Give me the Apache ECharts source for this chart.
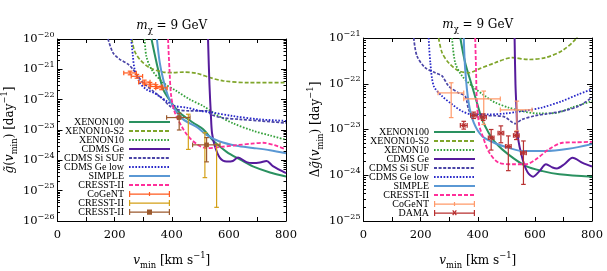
<!DOCTYPE html>
<html><head><meta charset="utf-8">
<script src="https://cdn.jsdelivr.net/npm/echarts@6/dist/echarts.min.js"></script>
<style>html,body{margin:0;padding:0;background:#fff}#c{width:607px;height:271px}</style>
</head><body><div id="c"></div>
<script>
// ---------------- LEFT PANEL: g~(vmin) ----------------
const L_xenon100_v = [329, 352, 370, 399, 428, 475, 510, 545, 592, 640, 684, 744, 800];
const L_xenon100_g = [1e-20, 1e-21, 2.19e-22, 7.94e-23, 3.72e-23, 1.74e-23, 1.05e-23, 4.47e-24, 1.91e-24, 1.05e-24, 6.31e-25, 3.98e-25, 2.95e-25];
const L_s2_v = [260, 270, 288, 323, 370, 405, 440, 487, 533, 580, 674, 800];
const L_s2_g = [1e-20, 3.98e-21, 2.14e-21, 1.12e-21, 8.13e-22, 7.76e-22, 8.13e-22, 7.41e-22, 5.37e-22, 4.17e-22, 3.63e-22, 3.63e-22];
const L_xenon10_v = [305, 311, 329, 370, 416, 463, 510, 557, 615, 686, 744, 800];
const L_xenon10_g = [1e-20, 2.75e-21, 1e-21, 3.63e-22, 1.95e-22, 1.02e-22, 6.17e-23, 3.16e-23, 1.66e-23, 9.33e-24, 6.61e-24, 4.79e-24];
const L_cdmsge_v = [527, 532, 537, 541, 551, 568, 592, 614, 632, 662, 684, 709, 732, 754, 800];
const L_cdmsge_g = [1e-20, 3.16e-22, 3.16e-23, 7.94e-24, 2.95e-24, 1.23e-24, 9.12e-25, 9.55e-25, 1.23e-24, 8.71e-25, 8.13e-25, 8.51e-25, 9.55e-25, 6.46e-25, 3.8e-25];
const L_sisuf_v = [177, 194, 218, 247, 264, 299, 334, 370, 393, 416, 463, 522, 540, 580, 639, 709, 800];
const L_sisuf_g = [1e-20, 3.55e-21, 2.14e-21, 1.48e-21, 1e-21, 3.63e-22, 1.95e-22, 1.02e-22, 6.17e-23, 4.79e-23, 4.27e-23, 4.27e-23, 3.16e-23, 2.51e-23, 2.24e-23, 2.0e-23, 1.70e-23];
const L_gelow_v = [258, 264, 270, 288, 311, 346, 381, 411, 452, 498, 533, 614, 709, 800];
const L_gelow_g = [1e-20, 2.75e-21, 1e-21, 3.63e-22, 2.19e-22, 1.51e-22, 9.12e-23, 6.17e-23, 5.5e-23, 4.27e-23, 3.89e-23, 2.88e-23, 2.24e-23, 2.0e-23];
const L_simple_v = [348, 358, 370, 387, 411, 440, 487, 520, 568, 627, 684, 744, 800];
const L_simple_g = [1e-20, 1.66e-21, 4.68e-22, 1.32e-22, 4.79e-23, 2.24e-23, 1.26e-23, 7.08e-24, 4.17e-24, 3.02e-24, 2.57e-24, 2.14e-24, 1.70e-24];
const L_cresst_v = [387, 392, 398, 411, 434, 457, 490, 522, 568, 627, 680, 720, 760, 800];
const L_cresst_g = [1e-20, 1e-21, 1.32e-22, 3.72e-23, 1.35e-23, 6.31e-24, 3.31e-24, 2.51e-24, 2.75e-24, 3.16e-24, 3.55e-24, 3.80e-24, 3.16e-24, 2.29e-24];
// CoGeNT points (left)
const L_cogent_v   = [254, 278, 304, 324, 345, 364];
const L_cogent_vlo = [232, 258, 284, 304, 325, 344];
const L_cogent_vhi = [276, 298, 324, 344, 365, 384];
const L_cogent_g   = [7.6e-22, 5.9e-22, 3.8e-22, 3.24e-22, 2.7e-22, 2.45e-22];
const L_cogent_glo = [6.6e-22, 5.1e-22, 3.3e-22, 2.8e-22, 2.35e-22, 2.13e-22];
const L_cogent_ghi = [8.7e-22, 6.8e-22, 4.4e-22, 3.7e-22, 3.1e-22, 2.8e-22];
// CRESST-II (gold, vertical bars)
const L_cr2_v   = [458, 516, 557];
const L_cr2_g   = [8.71e-24, 1.48e-24, 3.1e-25];
const L_cr2_glo = [2.29e-24, 2.69e-25, 2.82e-26];
const L_cr2_ghi = [3.31e-23, 8.13e-24, 3.39e-24];
// CRESST-II (brown, squares)
const L_cr3_v   = [426, 522];
const L_cr3_vlo = [382, 473];
const L_cr3_vhi = [464, 569];
const L_cr3_g   = [2.57e-23, 3.24e-24];
const L_cr3_glo = [1e-23, 8.91e-25];
const L_cr3_ghi = [3.55e-23, 5.62e-24];

// ---------------- RIGHT PANEL: Delta g~(vmin) ----------------
const R_xenon100_v = [339, 356, 380, 397, 415, 438, 462, 508, 569, 627, 686, 800];
const R_xenon100_g = [1e-21, 2.88e-22, 8.91e-23, 3.89e-23, 1.66e-23, 8.51e-24, 5.13e-24, 2.82e-24, 1.58e-24, 1.23e-24, 1.05e-24, 9.33e-25];
const R_s2_v = [263, 275, 298, 333, 368, 403, 461, 520, 578, 637, 695, 742, 752];
const R_s2_g = [1e-21, 4.79e-22, 2.88e-22, 1.91e-22, 1.74e-22, 2.09e-22, 2.88e-22, 3.72e-22, 3.39e-22, 3.72e-22, 5.25e-22, 9.33e-22, 1.26e-21];
const R_xenon10_v = [310, 321, 345, 380, 426, 461, 508, 555, 613, 672, 730, 800];
const R_xenon10_g = [1e-21, 2.88e-22, 1.48e-22, 8.91e-23, 5.37e-23, 3.89e-23, 3.02e-23, 2.51e-23, 2.24e-23, 2.29e-23, 3.02e-23, 4.17e-23];
const R_cdmsge_v = [529, 532, 536, 540, 557, 575, 594, 616, 639, 662, 677, 703, 732, 767, 800];
const R_cdmsge_g = [1e-21, 1e-22, 2.51e-23, 7.24e-24, 2.24e-24, 1.15e-24, 9.33e-25, 1.23e-24, 1.74e-24, 1.48e-24, 1.41e-24, 1.74e-24, 2.40e-24, 1.86e-24, 1.55e-24];
const R_sisuf_v = [176, 187, 216, 251, 275, 298, 333, 356, 368, 380, 415, 461, 496, 531, 555, 601, 640, 695, 753, 800];
const R_sisuf_g = [1e-21, 4.07e-22, 2.24e-22, 1.74e-22, 1.48e-22, 8.91e-23, 6.31e-23, 5.37e-23, 2.75e-23, 2.14e-23, 2.0e-23, 2.0e-23, 1.86e-23, 1.35e-23, 1.66e-23, 2.0e-23, 2.19e-23, 2.51e-23, 3.24e-23, 5.01e-23];
const R_gelow_v = [228, 234, 246, 275, 310, 345, 380, 438, 496, 555, 625, 695, 753, 800];
const R_gelow_g = [1e-21, 2.88e-22, 8.91e-23, 5.37e-23, 3.55e-23, 2.51e-23, 2.14e-23, 2.14e-23, 2.24e-23, 2.51e-23, 3.02e-23, 4.17e-23, 5.89e-23, 7.59e-23];
const R_simple_v = [351, 356, 368, 386, 415, 461, 508, 555, 636, 718, 800];
const R_simple_g = [1e-21, 2.09e-22, 3.89e-23, 1.41e-23, 7.24e-24, 5.01e-24, 3.98e-24, 3.39e-24, 3.39e-24, 3.80e-24, 4.79e-24];
const R_cresst_v = [391, 394, 397, 405, 417, 440, 475, 522, 569, 604, 650, 697, 744, 800];
const R_cresst_g = [1e-21, 2.09e-22, 3.89e-23, 1.26e-23, 7.24e-24, 3.16e-24, 1.86e-24, 1.74e-24, 1.74e-24, 2.24e-24, 3.72e-24, 5.13e-24, 5.25e-24, 5.37e-24];
// CoGeNT (right)
const R_cogent_v   = [307, 421, 537];
const R_cogent_vlo = [261, 351, 479];
const R_cogent_vhi = [351, 479, 590];
const R_cogent_g   = [6.31e-23, 4.68e-23, 2.69e-23];
const R_cogent_glo = [1.82e-23, 1.29e-23, 9.33e-24];
const R_cogent_ghi = [1.05e-22, 6.92e-23, 4.17e-23];
// DAMA (right)
const R_dama_v   = [351, 386, 419, 447, 481, 507, 535, 560];
const R_dama_vlo = [339, 375, 408, 437, 471, 497, 525, 550];
const R_dama_vhi = [363, 397, 430, 457, 491, 517, 545, 570];
const R_dama_g   = [1.23e-23, 2.04e-23, 1.86e-23, 6.61e-24, 8.32e-24, 4.27e-24, 7.41e-24, 3.09e-24];
const R_dama_glo = [1.02e-23, 1.74e-23, 1.58e-23, 3.55e-24, 5.13e-24, 1.26e-24, 6.03e-24, 6.31e-25];
const R_dama_ghi = [1.51e-23, 2.40e-23, 2.19e-23, 1.0e-23, 1.20e-23, 7.24e-24, 8.91e-24, 5.62e-24];

// y-axis decades (exponents) of each panel
const L_decades = [-26, -20];
const R_decades = [-25, -21];

// ---------------- styling ----------------
const SERIF = 'DejaVu Serif';
const LEGFONT = 'Liberation Serif';
const C = {
  xenon100: '#2a9160', s2: '#7fa52a', xenon10: '#34a03a', cdmsge: '#561b9c',
  sisuf: '#4a44a6', gelow: '#2626c8', simple: '#5a98d4', cresst: '#ff2f9a',
  cogentL: '#ff5a1f', cr2: '#d4a017', cr3: '#9c5a2e', cogentR: '#ff9a6a', dama: '#b83030'
};
const DASH = [4, 2], DOT = [1.6, 1.6];
const NY = 5; // y axes per grid

function zip(a, b) { return a.map((v, i) => [v, b[i]]); }
function zip6(v, g, vlo, vhi, glo, ghi) { return v.map((x, i) => [x, g[i], vlo ? vlo[i] : x, vhi ? vhi[i] : x, glo[i], ghi[i]]); }

function lineS(name, gi, v, g, color, width, type) {
  return { type: 'line', name, xAxisIndex: gi * 2, yAxisIndex: gi * NY, data: zip(v, g), symbol: 'none',
    smooth: 0.3, clip: true, z: 2, lineStyle: { color, width, type }, itemStyle: { color } };
}
function errS(name, gi, rows, color, marker) {
  return { type: 'custom', name, xAxisIndex: gi * 2, yAxisIndex: gi * NY, data: rows, clip: true, z: 5,
    encode: { x: [0, 2, 3], y: [1, 4, 5] }, itemStyle: { color },
    renderItem: function (params, api) {
      const v = api.value(0), g = api.value(1), vlo = api.value(2), vhi = api.value(3), glo = api.value(4), ghi = api.value(5);
      const c = api.coord([v, g]);
      const st = { stroke: color, lineWidth: 1.2 };
      const ch = [];
      const ln = (x1, y1, x2, y2) => ch.push({ type: 'line', shape: { x1, y1, x2, y2 }, style: st });
      const cap = 2.3;
      if (vhi > vlo) {
        const a = api.coord([vlo, g])[0], b = api.coord([vhi, g])[0];
        ln(a, c[1], b, c[1]); ln(a, c[1] - cap, a, c[1] + cap); ln(b, c[1] - cap, b, c[1] + cap);
      }
      if (ghi > glo) {
        const lo = api.coord([v, glo])[1], hi = api.coord([v, ghi])[1];
        ln(c[0], lo, c[0], hi); ln(c[0] - cap, lo, c[0] + cap, lo); ln(c[0] - cap, hi, c[0] + cap, hi);
      }
      if (marker === 'square') {
        ch.push({ type: 'rect', shape: { x: c[0] - 2.3, y: c[1] - 2.3, width: 4.6, height: 4.6 }, style: { fill: color } });
      } else if (marker === 'x') {
        const s = 2;
        ln(c[0] - s, c[1] - s, c[0] + s, c[1] + s); ln(c[0] - s, c[1] + s, c[0] + s, c[1] - s);
      }
      return { type: 'group', children: ch };
    } };
}

const BAR = 'M0,4h41v1.2h-41z M0,1.5h1.2v6h-1.2z M39.8,1.5h1.2v6h-1.2z';
const ICON_TICK = 'path://' + BAR + ' M19.9,2.5h1.2v4h-1.2z';
const ICON_BAR = 'path://' + BAR;
const ICON_SQ = 'path://' + BAR + ' M18,2h5v5.2h-5z';
const ICON_X = 'path://' + BAR + ' M18.2,2.2l1,-0.8l1.3,1.7l1.3,-1.7l1,0.8l-1.5,2l1.5,2l-1,0.8l-1.3,-1.7l-1.3,1.7l-1,-0.8l1.5,-2z';

function rich(fs) {
  const lh = Math.round(fs * 1.5);
  return {
    n: { fontFamily: SERIF, fontSize: fs, color: '#000', lineHeight: lh },
    i: { fontFamily: SERIF, fontSize: fs, fontStyle: 'italic', color: '#000', lineHeight: lh },
    sub: { fontFamily: SERIF, fontSize: fs * 0.7, color: '#000', verticalAlign: 'bottom' },
    sup: { fontFamily: SERIF, fontSize: fs * 0.7, color: '#000', verticalAlign: 'top' }
  };
}
const R12 = rich(12);
const labelRich = {
  b: { fontFamily: SERIF, fontSize: 11.5, color: '#000', lineHeight: 17 },
  s: { fontFamily: SERIF, fontSize: 8, color: '#000', verticalAlign: 'top' }
};
function expLabel(e) {
  e = Math.round(e);
  return '{b|10}{s|' + (e < 0 ? '\u2212' : '') + Math.abs(e) + '}';
}
function minorTicks(lo, hi) {
  const out = [];
  for (let d = lo; d < hi; d++) for (let k = 2; k <= 9; k++) out.push(d + Math.log10(k));
  return out;
}

const AX = { color: '#000', width: 1 };
function xAxes(gi) {
  const base = { gridIndex: gi, type: 'value', min: 0, max: 800, interval: 100, splitLine: { show: false },
    axisLine: { show: true, onZero: false, lineStyle: AX }, axisTick: { inside: true, length: 4, lineStyle: AX } };
  return [
    Object.assign({}, base, { position: 'bottom',
      axisLabel: { margin: 8, color: '#000', fontFamily: SERIF, fontSize: 11.5, formatter: v => (v % 200 === 0 ? String(v) : '') },
      name: '{i|v}{sub|min}{n| [km s}{sup|\u22121}{n|]}', nameLocation: 'middle', nameGap: 31, nameTextStyle: { rich: R12 } }),
    Object.assign({}, base, { position: 'top', axisLabel: { show: false },
      name: '{i|m}{sub|\u03c7}{n| = 9 GeV}', nameLocation: 'middle', nameGap: 4, nameTextStyle: { rich: R12 } })
  ];
}
function yAxes(gi, dec, yname) {
  const emin = dec[0], emax = dec[1];
  const base = { gridIndex: gi, splitLine: { show: false } };
  const expAx = { type: 'value', min: emin, max: emax, interval: 1, axisLine: { show: false } };
  return [
    // data axis (logarithmic)
    Object.assign({}, base, { type: 'log', logBase: 10, min: Math.pow(10, emin), max: Math.pow(10, emax), position: 'left',
      axisLine: { show: true, lineStyle: AX }, axisTick: { show: false }, axisLabel: { show: false } }),
    // decade labels / major ticks (left)
    Object.assign({}, base, expAx, { position: 'left',
      axisTick: { inside: true, length: 5, lineStyle: AX },
      axisLabel: { margin: 3, formatter: expLabel, rich: labelRich },
      name: yname, nameLocation: 'middle', nameRotate: 90, nameGap: 38, nameTextStyle: { rich: R12 } }),
    Object.assign({}, base, expAx, { position: 'left', axisLabel: { show: false },
      axisTick: { inside: true, length: 2.5, lineStyle: AX, customValues: minorTicks(emin, emax) } }),
    Object.assign({}, base, expAx, { position: 'right', axisLine: { show: true, lineStyle: AX }, axisLabel: { show: false },
      axisTick: { inside: true, length: 5, lineStyle: AX } }),
    Object.assign({}, base, expAx, { position: 'right', axisLabel: { show: false },
      axisTick: { inside: true, length: 2.5, lineStyle: AX, customValues: minorTicks(emin, emax) } })
  ];
}

const series = [
  lineS('XENON100', 0, L_xenon100_v, L_xenon100_g, C.xenon100, 2, 'solid'),
  lineS('XENON10-S2', 0, L_s2_v, L_s2_g, C.s2, 1.7, DASH),
  lineS('XENON10', 0, L_xenon10_v, L_xenon10_g, C.xenon10, 1.8, DOT),
  lineS('CDMS Ge', 0, L_cdmsge_v, L_cdmsge_g, C.cdmsge, 2, 'solid'),
  lineS('CDMS Si SUF', 0, L_sisuf_v, L_sisuf_g, C.sisuf, 1.7, [3, 1.6]),
  lineS('CDMS Ge low', 0, L_gelow_v, L_gelow_g, C.gelow, 1.8, DOT),
  lineS('SIMPLE', 0, L_simple_v, L_simple_g, C.simple, 2, 'solid'),
  lineS('CRESST-II', 0, L_cresst_v, L_cresst_g, C.cresst, 1.8, DASH),
  errS('CoGeNT', 0, zip6(L_cogent_v, L_cogent_g, L_cogent_vlo, L_cogent_vhi, L_cogent_glo, L_cogent_ghi), C.cogentL, 'none'),
  errS('CRESST-II#2', 0, zip6(L_cr2_v, L_cr2_g, null, null, L_cr2_glo, L_cr2_ghi), C.cr2, 'none'),
  errS('CRESST-II#3', 0, zip6(L_cr3_v, L_cr3_g, L_cr3_vlo, L_cr3_vhi, L_cr3_glo, L_cr3_ghi), C.cr3, 'square'),

  lineS('XENON100', 1, R_xenon100_v, R_xenon100_g, C.xenon100, 2, 'solid'),
  lineS('XENON10-S2', 1, R_s2_v, R_s2_g, C.s2, 1.7, DASH),
  lineS('XENON10', 1, R_xenon10_v, R_xenon10_g, C.xenon10, 1.8, DOT),
  lineS('CDMS Ge', 1, R_cdmsge_v, R_cdmsge_g, C.cdmsge, 2, 'solid'),
  lineS('CDMS Si SUF', 1, R_sisuf_v, R_sisuf_g, C.sisuf, 1.7, [3, 1.6]),
  lineS('CDMS Ge low', 1, R_gelow_v, R_gelow_g, C.gelow, 1.8, DOT),
  lineS('SIMPLE', 1, R_simple_v, R_simple_g, C.simple, 2, 'solid'),
  lineS('CRESST-II', 1, R_cresst_v, R_cresst_g, C.cresst, 1.8, DASH),
  errS('CoGeNT#R', 1, zip6(R_cogent_v, R_cogent_g, R_cogent_vlo, R_cogent_vhi, R_cogent_glo, R_cogent_ghi), C.cogentR, 'none'),
  errS('DAMA', 1, zip6(R_dama_v, R_dama_g, R_dama_vlo, R_dama_vhi, R_dama_glo, R_dama_ghi), C.dama, 'x')
];

const legBase = { orient: 'vertical', align: 'right', padding: 0, itemWidth: 41, itemHeight: 8, itemGap: -1,
  selectedMode: false, textStyle: { fontFamily: LEGFONT, fontSize: 10, color: '#000', lineHeight: 8 },
  formatter: n => n.split('#')[0] };
const LINES = ['XENON100', 'XENON10-S2', 'XENON10', 'CDMS Ge', 'CDMS Si SUF', 'CDMS Ge low', 'SIMPLE', 'CRESST-II']
  .map(n => ({ name: n, itemStyle: { opacity: 0 } }));

const option = {
  animation: false,
  backgroundColor: '#fff',
  grid: [
    { left: 57.5, top: 39, width: 228.5, height: 182, containLabel: false, outerBoundsMode: 'none' },
    { left: 363.5, top: 38, width: 228.5, height: 183, containLabel: false, outerBoundsMode: 'none' }
  ],
  xAxis: xAxes(0).concat(xAxes(1)),
  yAxis: yAxes(0, L_decades, '{i|g\u0303}{n|(}{i|v}{sub|min}{n|) [day}{sup|\u22121}{n|]}')
    .concat(yAxes(1, R_decades, '{n|\u0394}{i|g\u0303}{n|(}{i|v}{sub|min}{n|) [day}{sup|\u22121}{n|]}')),
  legend: [
    Object.assign({}, legBase, { right: 436, top: 117,
      data: LINES.concat([{ name: 'CoGeNT', icon: ICON_TICK }, { name: 'CRESST-II#2', icon: ICON_BAR }, { name: 'CRESST-II#3', icon: ICON_SQ }]) }),
    Object.assign({}, legBase, { right: 131, top: 127,
      data: LINES.concat([{ name: 'CoGeNT#R', icon: ICON_TICK }, { name: 'DAMA', icon: ICON_X }]) })
  ],
  series
};
const chart = echarts.init(document.getElementById('c'), null, { renderer: 'canvas' });
try { chart.setOption(option); } catch (e) { document.body.insertAdjacentHTML('beforeend', '<pre style="position:absolute;top:0;left:0;font-size:9px;color:red">' + e.stack + '</pre>'); }
</script></body></html>
